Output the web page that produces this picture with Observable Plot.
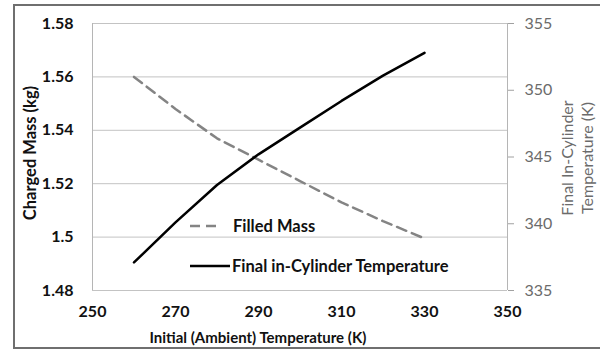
<!DOCTYPE html>
<html>
<head>
<meta charset="utf-8">
<script src="https://cdn.jsdelivr.net/npm/d3@7"></script>
<script src="https://cdn.jsdelivr.net/npm/@observablehq/plot@0.6"></script>
<style>
  html, body { margin: 0; padding: 0; background: #fff; }
  #wrap { position: relative; width: 600px; height: 350px; font-family: Lato, "Open Sans", sans-serif; overflow: hidden; }
  #border { position: absolute; left: 13px; top: 4px; width: 600px; height: 345px; border: 2px solid #6f6f6f; box-sizing: border-box; pointer-events: none; }
  .ytitle { position: absolute; font-weight: bold; font-size: 16.5px; color: #111; white-space: nowrap; transform: rotate(-90deg); transform-origin: center center; }
  .rtitle { position: absolute; font-size: 16px; color: #6b6b6b; white-space: nowrap; transform: rotate(-90deg); text-align: center; line-height: 20px; }
  .xtitle { position: absolute; font-weight: bold; font-size: 15px; color: #111; white-space: nowrap; }
</style>
</head>
<body>
<div id="wrap"></div>
<script>
// Data
const ambientTemps = [260, 270, 280, 290, 300, 310, 320, 330];
const filledMass = [1.560, 1.548, 1.537, 1.529, 1.521, 1.513, 1.506, 1.4995];
const finalTemp = [337.1, 340.1, 342.9, 345.2, 347.2, 349.2, 351.1, 352.8];
const xTicks = [250, 270, 290, 310, 330, 350];
const massTicks = [1.48, 1.50, 1.52, 1.54, 1.56, 1.58];
const tempTicks = [335, 340, 345, 350, 355];
const massDomain = [1.48, 1.58];
const tempDomain = [335, 355];
const seriesNames = ["Filled Mass", "Final in-Cylinder Temperature"];

// map temperature onto the mass scale (secondary axis)
const t2m = d3.scaleLinear().domain(tempDomain).range(massDomain);

const massData = ambientTemps.map((x, i) => ({x, y: filledMass[i]}));
const tempData = ambientTemps.map((x, i) => ({x, t: finalTemp[i]}));

const fmtMass = d => String(+d.toFixed(2));
const FONT = "Lato, 'Open Sans', sans-serif";

const chart = Plot.plot({
  width: 600,
  height: 350,
  marginLeft: 92,
  marginRight: 93,
  marginTop: 23,
  marginBottom: 60,
  style: { fontFamily: FONT, background: "transparent", overflow: "visible" },
  x: { domain: [250, 350] },
  y: { domain: massDomain },
  marks: [
    Plot.ruleY(massTicks, { stroke: "#c3c3c3", strokeWidth: 1 }),
    Plot.ruleX([250, 350], { stroke: "#b5b5b5", strokeWidth: 1 }),
    Plot.axisY(massTicks, {
      anchor: "left", tickSize: 0, tickPadding: 19, tickFormat: fmtMass,
      fontSize: 16, fontWeight: "bold", fill: "#111", label: null
    }),
    Plot.axisY(tempTicks.map(t2m), {
      anchor: "right", tickSize: 6, tickPadding: 11, stroke: "#a0a0a0",
      tickFormat: d => String(Math.round(t2m.invert(d))),
      fontSize: 16, fill: "#6b6b6b", label: null
    }),
    Plot.axisX(xTicks, {
      anchor: "bottom", tickSize: 0, tickPadding: 15,
      fontSize: 16, fontWeight: "bold", fill: "#111", label: null
    }),
    Plot.line(massData, {
      x: "x", y: "y", stroke: "#848484", strokeWidth: 2.5,
      strokeDasharray: "10,6"
    }),
    Plot.line(tempData, {
      x: "x", y: d => t2m(d.t), stroke: "#000", strokeWidth: 2.5
    })
  ]
});

const wrap = document.getElementById("wrap");
chart.style.position = "absolute";
chart.style.left = "0px";
chart.style.top = "0px";
wrap.appendChild(chart);

// Axis titles
const yt = document.createElement("div");
yt.className = "ytitle";
yt.textContent = "Charged Mass (kg)";
wrap.appendChild(yt);
yt.style.left = (30 - yt.offsetWidth / 2) + "px";
yt.style.top = (153 - yt.offsetHeight / 2) + "px";

const rt = document.createElement("div");
rt.className = "rtitle";
rt.innerHTML = "Final In-Cylinder<br>Temperature (K)";
wrap.appendChild(rt);
rt.style.left = (576 - rt.offsetWidth / 2) + "px";
rt.style.top = (158 - rt.offsetHeight / 2) + "px";

const xt = document.createElement("div");
xt.className = "xtitle";
xt.textContent = "Initial (Ambient) Temperature (K)";
wrap.appendChild(xt);
xt.style.left = (258 - xt.offsetWidth / 2) + "px";
xt.style.top = (337 - xt.offsetHeight / 2) + "px";

// Legend
const legendItems = [
  { label: seriesNames[0], dash: "10,6", color: "#848484", x1: 190, x2: 222, y: 226, tx: 233 },
  { label: seriesNames[1], dash: null, color: "#000", x1: 190, x2: 230, y: 266, tx: 232 }
];
const svgNS = "http://www.w3.org/2000/svg";
const lsvg = document.createElementNS(svgNS, "svg");
lsvg.setAttribute("width", 600);
lsvg.setAttribute("height", 350);
lsvg.style.position = "absolute";
lsvg.style.left = "0px";
lsvg.style.top = "0px";
for (const it of legendItems) {
  const ln = document.createElementNS(svgNS, "line");
  ln.setAttribute("x1", it.x1); ln.setAttribute("x2", it.x2);
  ln.setAttribute("y1", it.y); ln.setAttribute("y2", it.y);
  ln.setAttribute("stroke", it.color); ln.setAttribute("stroke-width", 2.5);
  if (it.dash) ln.setAttribute("stroke-dasharray", it.dash);
  lsvg.appendChild(ln);
  const tx = document.createElementNS(svgNS, "text");
  tx.setAttribute("x", it.tx); tx.setAttribute("y", it.y);
  tx.setAttribute("dy", "0.35em");
  tx.setAttribute("font-family", FONT);
  tx.setAttribute("font-size", 16.5);
  tx.setAttribute("font-weight", "bold");
  tx.setAttribute("fill", "#111");
  tx.textContent = it.label;
  lsvg.appendChild(tx);
}
wrap.appendChild(lsvg);

const border = document.createElement("div");
border.id = "border";
wrap.appendChild(border);
</script>
</body>
</html>
